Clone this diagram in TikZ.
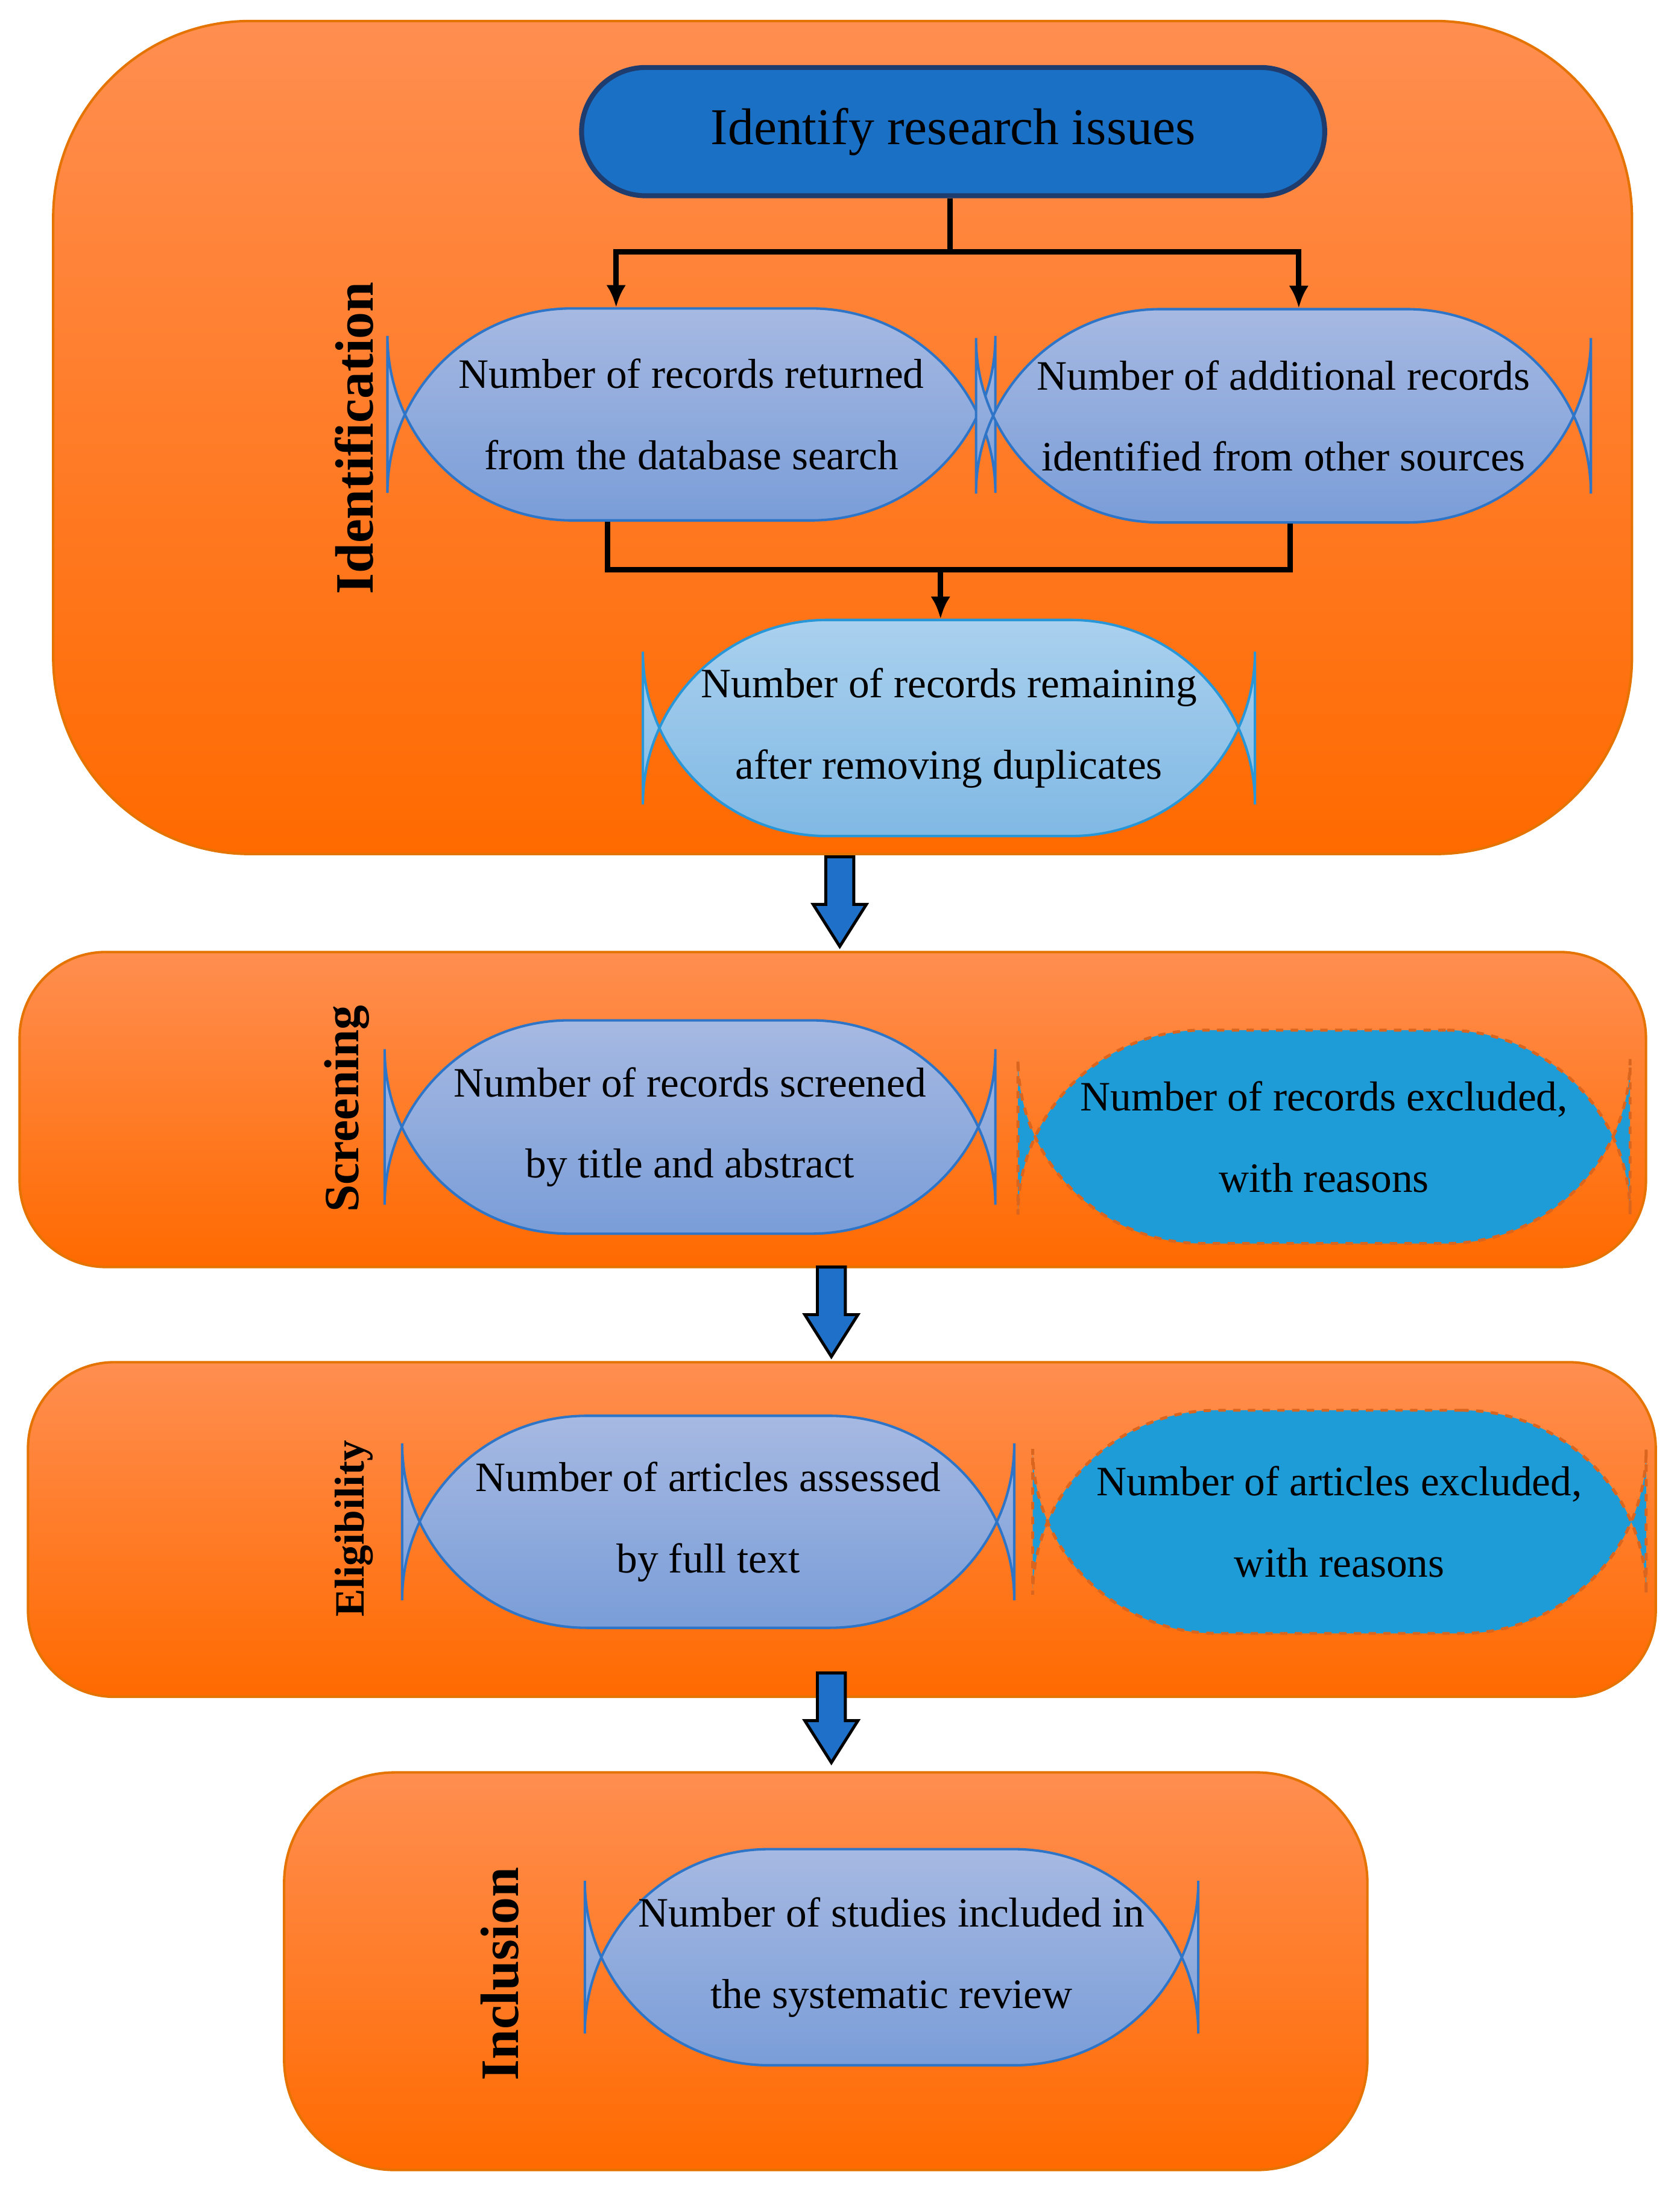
\documentclass[tikz,border=0pt]{standalone}
\usepackage{fontspec}
\usetikzlibrary{arrows.meta}
\setmainfont{Liberation Serif}
\begin{document}
\begin{tikzpicture}[x=0.02cm,y=-0.02cm,
 panel/.style={draw=orange!90!black,line width=1pt,top color={rgb,255:red,255;green,142;blue,80},bottom color={rgb,255:red,255;green,106;blue,0}},
 pill/.style={draw={rgb,255:red,46;green,117;blue,200},line width=1pt,rounded corners=#1,top color={rgb,255:red,166;green,185;blue,226},bottom color={rgb,255:red,122;green,157;blue,216},align=center,font=\fontsize{17}{33}\selectfont,inner sep=0pt},
 pill/.default=75pt,
 excl/.style={draw={rgb,255:red,217;green,101;blue,30},dashed,line width=1.2pt,rounded corners=75pt,fill={rgb,255:red,30;green,156;blue,216},align=center,font=\fontsize{17}{33}\selectfont,inner sep=0pt},
 lab/.style={rotate=90,font=\bfseries\fontsize{#1}{#1}\selectfont},
 conn/.style={line width=2.2pt,-{Latex[length=9pt,width=8pt]}},
 barrow/.style={draw=black,line width=1.2pt,fill={rgb,255:red,30;green,112;blue,200}}]
\useasboundingbox (0,0) rectangle (1200,1570);
% panels
\draw[panel,rounded corners=80] (38,15) rectangle (1166,610);
\draw[panel,rounded corners=35] (14,680) rectangle (1176,905);
\draw[panel,rounded corners=35] (20,973) rectangle (1183,1212);
\draw[panel,rounded corners=45] (203,1266) rectangle (977,1550);
% labels
\node[lab=22] at (253,313) {Identification};
\node[lab=20] at (248,792) {Screening};
\node[lab=17] at (253,1092) {Eligibility};
\node[lab=22] at (357,1410) {Inclusion};
% nodes
\node[draw={rgb,255:red,31;green,60;blue,110},line width=2pt,rounded corners=46*0.567pt,fill={rgb,255:red,26;green,112;blue,196},minimum width=533*0.567pt,minimum height=92*0.567pt,font=\fontsize{21}{25}\selectfont] (t) at (681,94) {Identify research issues};
\node[pill,minimum width=436*0.567pt,minimum height=152*0.567pt] (a) at (494,296) {Number of records returned\\from the database search};
\node[pill,minimum width=441*0.567pt,minimum height=153*0.567pt] (b) at (917,297) {Number of additional records\\identified from other sources};
\node[pill,top color={rgb,255:red,170;green,208;blue,238},bottom color={rgb,255:red,128;green,185;blue,228},draw={rgb,255:red,40;green,150;blue,215},minimum width=439*0.567pt,minimum height=155*0.567pt] (c) at (678,520) {Number of records remaining\\after removing duplicates};
\node[pill,minimum width=438*0.567pt,minimum height=153*0.567pt] (s) at (493,805) {Number of records screened\\by title and abstract};
\node[excl,minimum width=439*0.567pt,minimum height=153*0.567pt] (se) at (946,812) {Number of records excluded,\\with reasons};
\node[pill,minimum width=439*0.567pt,minimum height=152*0.567pt] (e) at (506,1087) {Number of articles assessed\\by full text};
\node[excl,minimum width=440*0.567pt,minimum height=160*0.567pt] (ee) at (957,1087) {Number of articles excluded,\\with reasons};
\node[pill,minimum width=440*0.567pt,minimum height=155*0.567pt] (i) at (637,1398) {Number of studies included in\\the systematic review};
% connectors
\coordinate (j1) at (679,180);
\coordinate (j2) at (672,407);
\draw[line width=2.2pt] (t.south -| j1) -- (j1);
\draw[conn] (j1) -| ([xshift=-54*0.567pt]a.north);
\draw[conn] (j1) -| ([xshift=11*0.567pt]b.north);
\draw[line width=2.2pt] ([xshift=-60*0.567pt]a.south) |- (j2) -| ([xshift=5*0.567pt]b.south);
\draw[conn] (j2) -- (c.north -| j2);
% block arrows
\foreach \x/\y in {600/612, 594/905, 594/1195}{
 \draw[barrow] (\x-10,\y) -- (\x+10,\y) -- (\x+10,\y+34) -- (\x+19,\y+34) -- (\x,\y+64) -- (\x-19,\y+34) -- (\x-10,\y+34) -- cycle;
}
\end{tikzpicture}
\end{document}
